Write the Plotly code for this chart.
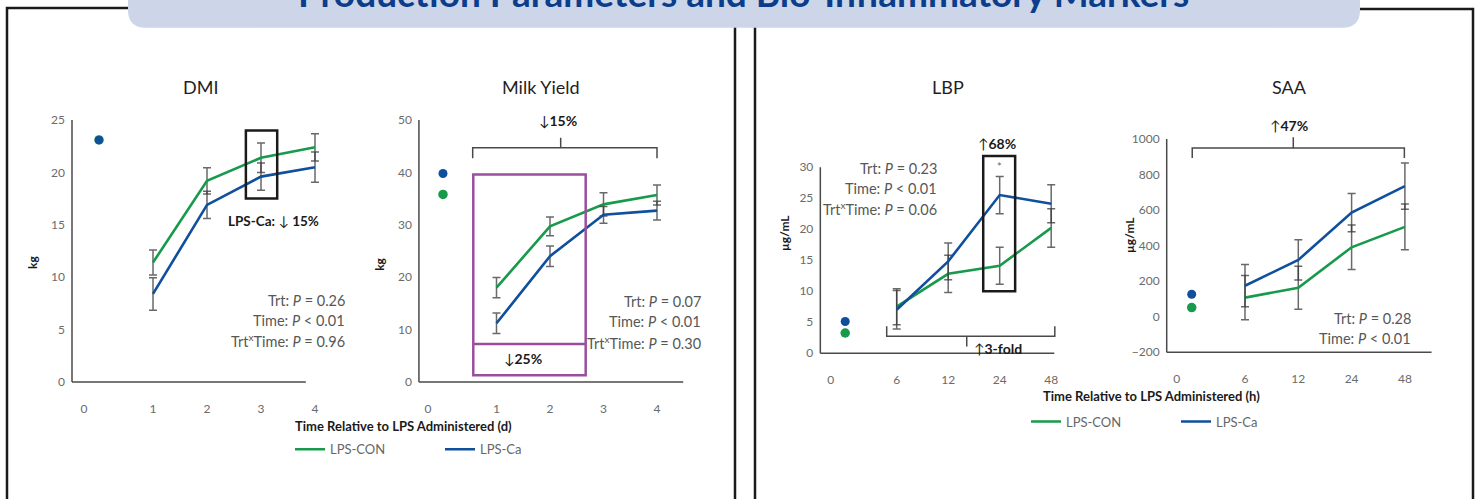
import plotly.graph_objects as go

W, H = 1481, 499

# ---------------- data ----------------
day_labels = ["0", "1", "2", "3", "4"]
days = [1, 2, 3, 4]

dmi_con = [11.4, 19.2, 21.4, 22.4]
dmi_con_se = [1.2, 1.25, 1.4, 1.3]
dmi_ca = [8.4, 16.9, 19.6, 20.5]
dmi_ca_se = [1.55, 1.3, 1.3, 1.45]
dmi_base_con = [23.1]
dmi_base_ca = [23.1]

milk_con = [18.0, 29.7, 33.9, 35.7]
milk_con_se = [1.95, 1.8, 2.2, 1.9]
milk_ca = [11.2, 24.0, 31.9, 32.7]
milk_ca_se = [1.95, 1.95, 1.6, 1.8]
milk_base_con = [35.8]
milk_base_ca = [39.8]

hour_labels = ["0", "6", "12", "24", "48"]
hours = [6, 12, 24, 48]

lbp_con = [7.5, 12.8, 14.1, 20.2]
lbp_con_se = [2.9, 3.0, 3.0, 3.1]
lbp_ca = [7.0, 14.8, 25.5, 24.1]
lbp_ca_se = [3.1, 2.95, 3.0, 3.05]
lbp_base_con = [3.25]
lbp_base_ca = [5.1]

saa_con = [107, 163, 390, 505]
saa_con_se = [125, 121, 125, 128]
saa_ca = [174, 319, 585, 734]
saa_ca_se = [119, 113, 108, 130]
saa_base_con = [51]
saa_base_ca = [126]

dmi_ticks = [0, 5, 10, 15, 20, 25]
milk_ticks = [0, 10, 20, 30, 40, 50]
lbp_ticks = [0, 5, 10, 15, 20, 25, 30]
saa_ticks = [-200, 0, 200, 400, 600, 800, 1000]

# ---------------- styling ----------------
GREEN = "#179a4b"
BLUE = "#0f4f9c"
ERR = "rgba(55,55,55,0.75)"
AXC = "#4a4a4a"
FONT = "Lato, 'Open Sans', sans-serif"
TICKC = "#6b6b6b"


def X(px):
    return px / W


def Y(py):
    return 1 - py / H


fig = go.Figure()

# panel geometry: px = a + b*pos ; py = c - d*value
panels = [
    dict(a=99.0, b=54.0, c=385.0, d=10.56, xl=-0.5, xr=3.83, ymin=0, ymax=25, R=335, T=100),
    dict(a=443.0, b=53.5, c=385.0, d=5.28, xl=-0.45, xr=4.49, ymin=0, ymax=50, R=700, T=100),
    dict(a=845.2, b=51.5, c=356.0, d=6.25, xl=-0.483, xr=4.06, ymin=0, ymax=30, R=1065, T=140),
    dict(a=1191.7, b=53.3, c=319.2, d=0.1792, xl=-0.469, xr=4.50, ymin=-200, ymax=1000, R=1445, T=120),
]

series = [
    (days, dmi_con, dmi_con_se, dmi_ca, dmi_ca_se, dmi_base_con, dmi_base_ca, day_labels, dmi_ticks, "legend", True),
    (days, milk_con, milk_con_se, milk_ca, milk_ca_se, milk_base_con, milk_base_ca, day_labels, milk_ticks, "legend", False),
    (list(range(1, len(hours) + 1)), lbp_con, lbp_con_se, lbp_ca, lbp_ca_se, lbp_base_con, lbp_base_ca, hour_labels, lbp_ticks, "legend2", True),
    (list(range(1, len(hours) + 1)), saa_con, saa_con_se, saa_ca, saa_ca_se, saa_base_con, saa_base_ca, hour_labels, saa_ticks, "legend2", False),
]

shapes = []
for i, (pp, s) in enumerate(zip(panels, series)):
    k = "" if i == 0 else str(i + 1)
    xa, ya = "x" + k, "y" + k
    xpos, con, con_se, ca, ca_se, bcon, bca, xlabels, yticks, leg, showleg = s
    a, b, c, d = pp["a"], pp["b"], pp["c"], pp["d"]
    L = a + b * pp["xl"] - 3
    R = pp["R"]
    T = pp["T"]
    B = c - d * pp["ymin"] + 3
    xr = [(L - a) / b, (R - a) / b]
    yr = [(c - B) / d, (c - T) / d]

    fig.add_trace(go.Scatter(
        x=xpos, y=con, mode="lines", name="LPS-CON", legend=leg, showlegend=showleg,
        line=dict(color=GREEN, width=2.6), xaxis=xa, yaxis=ya,
        error_y=dict(type="data", array=con_se, color=ERR, thickness=1.5, width=4),
    ))
    fig.add_trace(go.Scatter(
        x=xpos, y=ca, mode="lines", name="LPS-Ca", legend=leg, showlegend=showleg,
        line=dict(color=BLUE, width=2.6), xaxis=xa, yaxis=ya,
        error_y=dict(type="data", array=ca_se, color=ERR, thickness=1.5, width=4),
    ))
    fig.add_trace(go.Scatter(
        x=[0], y=bcon, mode="markers", showlegend=False, marker=dict(color=GREEN, size=9.5),
        xaxis=xa, yaxis=ya,
    ))
    fig.add_trace(go.Scatter(
        x=[0], y=bca, mode="markers", showlegend=False, marker=dict(color=BLUE, size=8.5 if bca == bcon else 9),
        xaxis=xa, yaxis=ya,
    ))

    fig.layout["xaxis" + k] = dict(
        domain=[X(L), X(R)], range=xr, anchor=ya, showgrid=False, zeroline=False,
        showline=False, ticks="", tickvals=[-0.28] + list(xpos), ticktext=xlabels,
        tickfont=dict(size=12, color=TICKC, family=FONT), ticklabelstandoff=15,
    )
    fig.layout["yaxis" + k] = dict(
        domain=[Y(B), Y(T)], range=yr, anchor=xa, showgrid=False, zeroline=False,
        showline=False, ticks="", tickvals=yticks,
        tickfont=dict(size=12, color=TICKC, family=FONT), ticklabelstandoff=3,
    )
    # axis lines
    shapes.append(dict(type="line", xref=xa, yref=ya, x0=pp["xl"], x1=pp["xl"], y0=pp["ymin"], y1=pp["ymax"],
                       line=dict(color=AXC, width=1.5)))
    shapes.append(dict(type="line", xref=xa, yref=ya, x0=pp["xl"], x1=pp["xr"], y0=pp["ymin"], y1=pp["ymin"],
                       line=dict(color=AXC, width=1.5)))

# ---- highlight boxes and brackets ----
shapes += [
    dict(type="rect", xref="x", yref="y", x0=2.72, x1=3.30, y0=17.5, y1=24.0,
         line=dict(color="#1a1a1a", width=2.5)),
    dict(type="path", xref="x2", yref="y2", path="M0.555,42.7 L0.555,44.7 L4.0,44.7 L4.0,42.7",
         line=dict(color=AXC, width=1.5)),
    dict(type="line", xref="x2", yref="y2", x0=2.2, x1=2.2, y0=44.7, y1=46.6, line=dict(color=AXC, width=1.5)),
    dict(type="rect", xref="x2", yref="y2", x0=0.566, x1=2.667, y0=1.27, y1=39.6,
         line=dict(color="#9a4f9d", width=2.5)),
    dict(type="line", xref="x2", yref="y2", x0=0.566, x1=2.667, y0=7.25, y1=7.25,
         line=dict(color="#9a4f9d", width=2.5)),
    dict(type="rect", xref="x3", yref="y3", x0=2.68, x1=3.30, y0=10.0, y1=31.8,
         line=dict(color="#1a1a1a", width=2.5)),
    dict(type="path", xref="x3", yref="y3", path="M0.806,4.32 L0.806,2.72 L4.07,2.72 L4.07,4.32",
         line=dict(color=AXC, width=1.5)),
    dict(type="line", xref="x3", yref="y3", x0=2.36, x1=2.36, y0=2.72, y1=1.07, line=dict(color=AXC, width=1.5)),
    dict(type="path", xref="x4", yref="y4", path="M0.01,892 L0.01,948 L3.99,948 L3.99,892",
         line=dict(color=AXC, width=1.5)),
    dict(type="line", xref="x4", yref="y4", x0=1.906, x1=1.906, y0=948, y1=1009, line=dict(color=AXC, width=1.5)),
]

# ---- panel frames and banner ----
shapes += [
    dict(type="rect", xref="paper", yref="paper", x0=X(7), x1=X(735), y0=Y(530), y1=Y(8),
         line=dict(color="#1a1a1a", width=2.5)),
    dict(type="rect", xref="paper", yref="paper", x0=X(755), x1=X(1473), y0=Y(530), y1=Y(9),
         line=dict(color="#1a1a1a", width=2.5)),
]
r = 18
bx0, bx1, by0, by1 = 128, 1360, -10, 28
banner_path = (
    f"M{X(bx0)},{Y(by0)} L{X(bx1)},{Y(by0)} L{X(bx1)},{Y(by1 - r)} "
    f"Q{X(bx1)},{Y(by1)} {X(bx1 - r)},{Y(by1)} L{X(bx0 + r)},{Y(by1)} "
    f"Q{X(bx0)},{Y(by1)} {X(bx0)},{Y(by1 - r)} Z"
)
shapes.append(dict(type="path", xref="paper", yref="paper", path=banner_path,
                   fillcolor="#cdd6e8", line=dict(width=0)))

fig.update_layout(shapes=shapes)

# ---- text ----
ann = []


def txt(px, py, text, size=14, color="#1a1a1a", xanchor="center", angle=0, bold=False):
    if bold:
        text = f"<b>{text}</b>"
    ann.append(dict(x=X(px), y=Y(py), xref="paper", yref="paper", text=text, showarrow=False,
                    xanchor=xanchor, yanchor="middle", textangle=angle,
                    font=dict(size=size, color=color, family=FONT)))


txt(743, -8, "Production Parameters and Bio-Inflammatory Markers", size=37, color="#0b3d8c", bold=True)

for px, t in [(200, "DMI"), (541, "Milk Yield"), (948, "LBP"), (1289, "SAA")]:
    txt(px, 88, t, size=18, color="#1f1f1f")

for px, py, t in [(33, 265, "kg"), (380, 267, "kg"), (784, 235, "µg/mL"), (1129, 237, "µg/mL")]:
    txt(px, py, t, size=12, angle=-90, bold=True)

txt(403, 429, "Time Relative to LPS Administered (d)", size=13, bold=True)
txt(1151, 399, "Time Relative to LPS Administered (h)", size=13, bold=True)

STAT = "#575757"
for px, ys, lines in [
    (347, [303, 323, 343], ["Trt: <i>P</i> = 0.26", "Time: <i>P</i> &lt; 0.01", "Trt<sup>x</sup>Time: <i>P</i> = 0.96"]),
    (703, [304, 324, 345], ["Trt: <i>P</i> = 0.07", "Time: <i>P</i> &lt; 0.01", "Trt<sup>x</sup>Time: <i>P</i> = 0.30"]),
    (939, [170, 190, 210], ["Trt: <i>P</i> = 0.23", "Time: <i>P</i> &lt; 0.01", "Trt<sup>x</sup>Time: <i>P</i> = 0.06"]),
    (1413, [321, 341], ["Trt: <i>P</i> = 0.28", "Time: <i>P</i> &lt; 0.01"]),
]:
    for py, t in zip(ys, lines):
        txt(px, py, t, size=14.5, color=STAT, xanchor="right")

txt(273, 223, "<b>LPS-Ca:</b> ↓ <b>15%</b>", size=13.5)
txt(558, 121, "↓<b>15%</b>", size=14)
txt(523, 361, "↓<b>25%</b>", size=14)
txt(997, 145, "↑<b>68%</b>", size=14)
txt(998, 351, "↑<b>3-fold</b>", size=14)
txt(1289, 127, "↑<b>47%</b>", size=14)
txt(999, 168, "*", size=11, color="#666666")

fig.update_layout(annotations=ann)

fig.update_layout(
    width=W, height=H, autosize=False,
    margin=dict(l=0, r=0, t=0, b=0),
    paper_bgcolor="white", plot_bgcolor="white",
    font=dict(family=FONT),
    legend=dict(orientation="h", x=X(290), y=Y(453), xanchor="left", yanchor="middle",
                entrywidth=105, entrywidthmode="pixels", font=dict(size=13, color="#666666", family=FONT),
                bgcolor="rgba(0,0,0,0)", itemclick=False),
    legend2=dict(orientation="h", x=X(1026), y=Y(425), xanchor="left", yanchor="middle",
                 entrywidth=105, entrywidthmode="pixels", font=dict(size=13, color="#666666", family=FONT),
                 bgcolor="rgba(0,0,0,0)", itemclick=False),
)

fig.write_html("out.html", config={"displayModeBar": False},
               post_script="document.body.style.margin='0';")
